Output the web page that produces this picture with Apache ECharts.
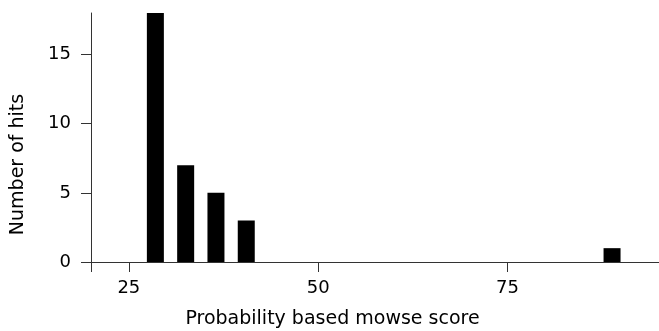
<!DOCTYPE html>
<html><head><meta charset="utf-8">
<script src="https://cdn.jsdelivr.net/npm/echarts@6/dist/echarts.min.js"></script>
<style>html,body{margin:0;padding:0;background:#fff}#c{width:659px;height:331px}</style>
</head><body><div id="c"></div>
<script>
const scores = [28.5, 32.5, 36.5, 40.5, 88.8];
const hits = [18, 7, 5, 3, 1];
const xTicks = [20, 25, 50, 75];
const xLabels = [25, 50, 75];
const yTicks = [0, 5, 10, 15];
const xTitle = 'Probability based mowse score';
const yTitle = 'Number of hits';

const font = 'DejaVu Sans';
const chart = echarts.init(document.getElementById('c'));
chart.setOption({
  animation: false,
  grid: {left: 91, right: 0, top: 13, bottom: 69, outerBoundsMode: 'none', containLabel: false},
  xAxis: {
    type: 'value', min: 20, max: 95,
    name: xTitle, nameLocation: 'middle', nameGap: 48,
    nameTextStyle: {fontFamily: font, fontSize: 19, color: '#000', padding: [0, 85, 0, 0]},
    axisLine: {show: true, onZero: false, lineStyle: {color: '#333', width: 1}},
    axisTick: {show: true, customValues: xTicks, length: 10, lineStyle: {color: '#333'}},
    axisLabel: {customValues: xLabels, fontFamily: font, fontSize: 18, color: '#000', margin: 17},
    splitLine: {show: false}
  },
  yAxis: {
    type: 'value', min: 0, max: 18,
    name: yTitle, nameLocation: 'middle', nameGap: 63,
    nameTextStyle: {fontFamily: font, fontSize: 19, color: '#000', padding: [0, 54, 0, 0]},
    axisLine: {show: true, lineStyle: {color: '#333', width: 1}},
    axisTick: {show: true, customValues: yTicks, length: 10, lineStyle: {color: '#333'}},
    axisLabel: {customValues: yTicks, fontFamily: font, fontSize: 18, color: '#000', margin: 20},
    splitLine: {show: false}
  },
  series: [{
    type: 'bar', barWidth: 17,
    data: scores.map((s, i) => [s, hits[i]]),
    itemStyle: {color: '#000'}
  }]
});
</script></body></html>
